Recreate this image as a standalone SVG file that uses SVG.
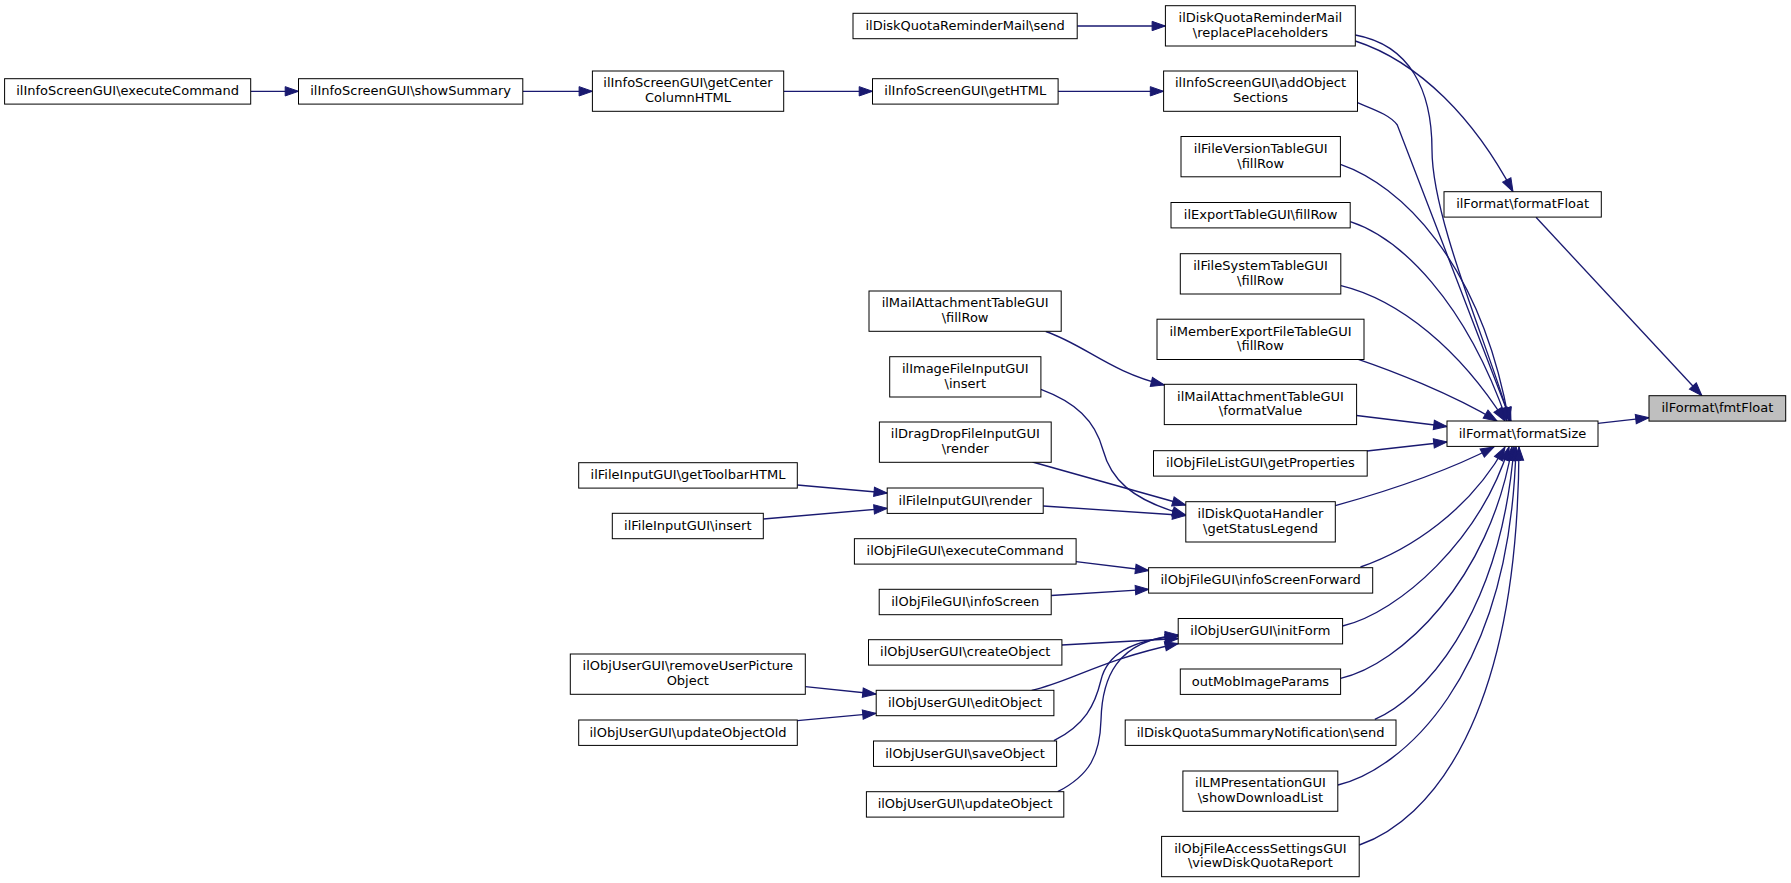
<svg xmlns="http://www.w3.org/2000/svg" width="1791" height="883" viewBox="0 0 1791 883">
<style>
.n rect{fill:#fff;stroke:#000;stroke-width:1}
.n.h rect{fill:#bfbfbf}
text{font-family:"DejaVu Sans","Liberation Sans",sans-serif;font-size:13px;text-anchor:middle;fill:#000}
.e path{fill:none;stroke:#191970;stroke-width:1.33;marker-end:url(#a)}
</style>
<defs>
<marker id="a" markerUnits="userSpaceOnUse" markerWidth="16" markerHeight="12" refX="13.3" refY="4.67" orient="auto" overflow="visible">
<path d="M0,0 L13.3,4.67 L0,9.33 Z" fill="#191970" stroke="#191970" stroke-width="1"/>
</marker>
</defs>
<rect width="1791" height="883" fill="#fff"/>
<g id="edges" class="e">
<path d="M250.7,91.3 L298.5,91.3"/>
<path d="M522.8,91.3 L592.4,91.3"/>
<path d="M783.7,91.3 L872.5,91.3"/>
<path d="M1058.1,91.3 L1163.6,91.3"/>
<path d="M1077.2,26 L1165.4,26"/>
<path d="M1355.3,41 C1420,62 1475,120 1513,191.7"/>
<path d="M1355.3,35 C1410,45 1432,90 1432,150 C1432,220 1490,350 1510,421"/>
<path d="M1357.5,102.7 C1375,110 1390,115 1397.3,125 L1511,421"/>
<path d="M1340.5,164.3 C1400,185 1480,260 1509,421"/>
<path d="M1350.3,221.7 C1400,238 1465,300 1507,421"/>
<path d="M1341,285.7 C1400,300 1460,350 1505,421"/>
<path d="M1358.3,359.3 C1390,370 1450,393 1497,421"/>
<path d="M1356.6,415.5 L1447,426.5"/>
<path d="M1367,451 L1447,442"/>
<path d="M1335.3,505.7 C1370,496 1440,475 1494,447"/>
<path d="M1360.5,567 C1410,550 1470,510 1505,447"/>
<path d="M1342.6,626 C1400,612 1480,540 1509,447"/>
<path d="M1340.6,678.3 C1400,665 1490,580 1512,447"/>
<path d="M1374.8,719.3 C1420,700 1500,620 1514,447"/>
<path d="M1338,785 C1400,770 1510,680 1516,447"/>
<path d="M1359.3,845 C1430,820 1518,720 1519,447"/>
<path d="M1536,217.3 L1701.9,395.7"/>
<path d="M1597.7,423.3 L1649,417.7"/>
<path d="M1045.8,331.5 C1085,345 1110,372 1164.3,385"/>
<path d="M1040.9,389.3 C1075,402 1095,420 1103,450 C1110.5,478 1130,500 1185.7,515"/>
<path d="M1032.5,462 L1185.7,505"/>
<path d="M1043.2,506 L1185.7,515.5"/>
<path d="M797.3,485 L887.3,493"/>
<path d="M763.3,519 L887.3,508.3"/>
<path d="M1076,561.7 L1148.7,570.5"/>
<path d="M1051.2,595.5 L1148.7,589.3"/>
<path d="M1061.9,645 L1178.3,638.5"/>
<path d="M1031.7,690.3 C1070,682 1100,660 1178.3,643.5"/>
<path d="M1053.9,740.7 C1085,725 1095,705 1101,680 C1107,655 1130,640 1178.6,636"/>
<path d="M1057.7,791.7 C1090,775 1100,755 1101,720 C1102,680 1115,640 1178.6,635"/>
<path d="M805.3,686.7 L876,694"/>
<path d="M797.3,720.7 L876,713.3"/>
</g>
<g id="n1" class="n"><rect x="4.6" y="78.7" width="246.1" height="25.4"/><text x="127.6" y="95.2">ilInfoScreenGUI\executeCommand</text></g>
<g id="n2" class="n"><rect x="298.5" y="78.7" width="224.3" height="25.4"/><text x="410.6" y="95.2">ilInfoScreenGUI\showSummary</text></g>
<g id="n3" class="n"><rect x="592.4" y="71" width="191.3" height="40.3"/><text x="688" y="87.3">ilInfoScreenGUI\getCenter</text><text x="688" y="102">ColumnHTML</text></g>
<g id="n4" class="n"><rect x="853" y="13.3" width="224.2" height="25.4"/><text x="965.1" y="29.8">ilDiskQuotaReminderMail\send</text></g>
<g id="n5" class="n"><rect x="872.5" y="78.7" width="185.6" height="25.4"/><text x="965.3" y="95.2">ilInfoScreenGUI\getHTML</text></g>
<g id="n6" class="n"><rect x="1165.4" y="5.7" width="189.9" height="40.3"/><text x="1260.4" y="22">ilDiskQuotaReminderMail</text><text x="1260.4" y="36.7">\replacePlaceholders</text></g>
<g id="n7" class="n"><rect x="1163.6" y="71" width="193.9" height="40.3"/><text x="1260.5" y="87.3">ilInfoScreenGUI\addObject</text><text x="1260.5" y="102">Sections</text></g>
<g id="n8" class="n"><rect x="1181" y="136.5" width="159.4" height="40.3"/><text x="1260.7" y="152.8">ilFileVersionTableGUI</text><text x="1260.7" y="167.5">\fillRow</text></g>
<g id="n9" class="n"><rect x="1171" y="202.5" width="179.2" height="25.4"/><text x="1260.6" y="219">ilExportTableGUI\fillRow</text></g>
<g id="n10" class="n"><rect x="1180.3" y="253.7" width="160.5" height="40.3"/><text x="1260.5" y="270">ilFileSystemTableGUI</text><text x="1260.5" y="284.7">\fillRow</text></g>
<g id="n11" class="n"><rect x="1157" y="319.2" width="207" height="40.3"/><text x="1260.5" y="335.5">ilMemberExportFileTableGUI</text><text x="1260.5" y="350.2">\fillRow</text></g>
<g id="n12" class="n"><rect x="1164.3" y="384.3" width="192.3" height="40.3"/><text x="1260.5" y="400.6">ilMailAttachmentTableGUI</text><text x="1260.5" y="415.3">\formatValue</text></g>
<g id="n13" class="n"><rect x="1153.5" y="450.7" width="213.7" height="25.4"/><text x="1260.4" y="467.2">ilObjFileListGUI\getProperties</text></g>
<g id="n14" class="n"><rect x="1185.8" y="501.7" width="149.5" height="40.3"/><text x="1260.5" y="518">ilDiskQuotaHandler</text><text x="1260.5" y="532.7">\getStatusLegend</text></g>
<g id="n15" class="n"><rect x="1148.6" y="567.7" width="224.1" height="25.4"/><text x="1260.6" y="584.2">ilObjFileGUI\infoScreenForward</text></g>
<g id="n16" class="n"><rect x="1178.2" y="618.5" width="164.4" height="25.4"/><text x="1260.4" y="635">ilObjUserGUI\initForm</text></g>
<g id="n17" class="n"><rect x="1180.3" y="669" width="160.3" height="25.4"/><text x="1260.4" y="685.5">outMobImageParams</text></g>
<g id="n18" class="n"><rect x="1125.2" y="720" width="270.8" height="25.4"/><text x="1260.6" y="736.5">ilDiskQuotaSummaryNotification\send</text></g>
<g id="n19" class="n"><rect x="1182.9" y="771" width="154.9" height="40.3"/><text x="1260.4" y="787.3">ilLMPresentationGUI</text><text x="1260.4" y="802">\showDownloadList</text></g>
<g id="n20" class="n"><rect x="1161.6" y="836.4" width="197.6" height="40.3"/><text x="1260.4" y="852.7">ilObjFileAccessSettingsGUI</text><text x="1260.4" y="867.4">\viewDiskQuotaReport</text></g>
<g id="n21" class="n"><rect x="1444" y="191.7" width="157.3" height="25.4"/><text x="1522.6" y="208.2">ilFormat\formatFloat</text></g>
<g id="n22" class="n"><rect x="1447" y="421" width="151" height="25.4"/><text x="1522.5" y="437.5">ilFormat\formatSize</text></g>
<g id="n23" class="n h"><rect x="1649" y="395.7" width="136.7" height="25.4"/><text x="1717.4" y="412.2">ilFormat\fmtFloat</text></g>
<g id="n24" class="n"><rect x="869" y="291" width="192.2" height="40.3"/><text x="965.1" y="307.3">ilMailAttachmentTableGUI</text><text x="965.1" y="322">\fillRow</text></g>
<g id="n25" class="n"><rect x="889.7" y="356.7" width="151.2" height="40.3"/><text x="965.3" y="373">ilImageFileInputGUI</text><text x="965.3" y="387.7">\insert</text></g>
<g id="n26" class="n"><rect x="879.4" y="422" width="171.8" height="40.3"/><text x="965.3" y="438.3">ilDragDropFileInputGUI</text><text x="965.3" y="453">\render</text></g>
<g id="n27" class="n"><rect x="887.2" y="488" width="156" height="25.4"/><text x="965.2" y="504.5">ilFileInputGUI\render</text></g>
<g id="n28" class="n"><rect x="578.7" y="462.7" width="218.6" height="25.4"/><text x="688" y="479.2">ilFileInputGUI\getToolbarHTML</text></g>
<g id="n29" class="n"><rect x="612.3" y="513.3" width="151" height="25.4"/><text x="687.8" y="529.8">ilFileInputGUI\insert</text></g>
<g id="n30" class="n"><rect x="854.4" y="538.7" width="221.7" height="25.4"/><text x="965.2" y="555.2">ilObjFileGUI\executeCommand</text></g>
<g id="n31" class="n"><rect x="879.2" y="589.3" width="172" height="25.4"/><text x="965.2" y="605.8">ilObjFileGUI\infoScreen</text></g>
<g id="n32" class="n"><rect x="868.5" y="639.7" width="193.4" height="25.4"/><text x="965.2" y="656.2">ilObjUserGUI\createObject</text></g>
<g id="n33" class="n"><rect x="876.2" y="690.3" width="177.7" height="25.4"/><text x="965" y="706.8">ilObjUserGUI\editObject</text></g>
<g id="n34" class="n"><rect x="873.5" y="741" width="183.1" height="25.4"/><text x="965" y="757.5">ilObjUserGUI\saveObject</text></g>
<g id="n35" class="n"><rect x="866.4" y="791.7" width="197.4" height="25.4"/><text x="965.1" y="808.2">ilObjUserGUI\updateObject</text></g>
<g id="n36" class="n"><rect x="570.3" y="654" width="235" height="40.3"/><text x="687.8" y="670.3">ilObjUserGUI\removeUserPicture</text><text x="687.8" y="685">Object</text></g>
<g id="n37" class="n"><rect x="578.7" y="720" width="218.6" height="25.4"/><text x="688" y="736.5">ilObjUserGUI\updateObjectOld</text></g>
</svg>
